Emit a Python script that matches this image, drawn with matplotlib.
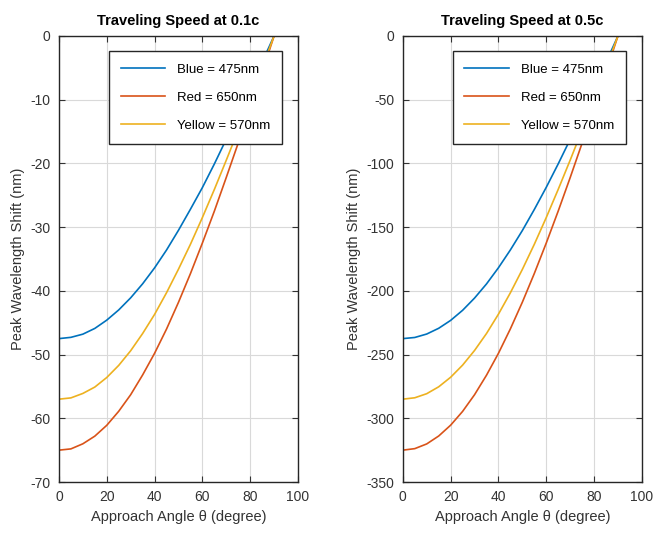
import matplotlib
matplotlib.use("Agg")
import matplotlib.pyplot as plt

plt.rcParams['font.family'] = ['Liberation Sans', 'DejaVu Sans']
plt.rcParams['axes.unicode_minus'] = False

# approach angle (degree)
theta = [0, 5, 10, 15, 20, 25, 30, 35, 40, 45, 50, 55, 60, 65, 70, 75, 80, 85, 90]

# peak wavelength shift (nm) at 0.1c
blue_01 = [-47.5, -47.3, -46.8, -45.9, -44.6, -43.0, -41.1, -38.9, -36.4, -33.6,
           -30.5, -27.2, -23.8, -20.1, -16.2, -12.3, -8.2, -4.1, 0.0]
red_01 = [-65.0, -64.8, -64.0, -62.8, -61.1, -58.9, -56.3, -53.2, -49.8, -46.0,
          -41.8, -37.3, -32.5, -27.5, -22.2, -16.8, -11.3, -5.7, 0.0]
yellow_01 = [-57.0, -56.8, -56.1, -55.1, -53.6, -51.7, -49.4, -46.7, -43.7, -40.3,
             -36.6, -32.7, -28.5, -24.1, -19.5, -14.8, -9.9, -5.0, 0.0]

# peak wavelength shift (nm) at 0.5c
blue_05 = [-237.5, -236.6, -233.9, -229.4, -223.2, -215.3, -205.7, -194.6, -181.9, -167.9,
           -152.7, -136.2, -118.8, -100.4, -81.2, -61.5, -41.2, -20.7, 0.0]
red_05 = [-325.0, -323.8, -320.1, -313.9, -305.4, -294.6, -281.5, -266.2, -249.0, -229.8,
          -208.9, -186.4, -162.5, -137.4, -111.2, -84.1, -56.4, -28.3, 0.0]
yellow_05 = [-285.0, -283.9, -280.7, -275.3, -267.8, -258.3, -246.8, -233.5, -218.3, -201.5,
             -183.2, -163.5, -142.5, -120.4, -97.5, -73.8, -49.5, -24.8, 0.0]

labels = ['Blue = 475nm', 'Red = 650nm', 'Yellow = 570nm']
colors = ['#0072BD', '#D95319', '#EDB120']

fig = plt.figure(figsize=(6.55, 5.35), dpi=100)
ax1 = fig.add_axes([0.090, 0.099, 0.365, 0.834])
ax2 = fig.add_axes([0.615, 0.099, 0.365, 0.834])

panels = [
    (ax1, [blue_01, red_01, yellow_01], 'Traveling Speed at 0.1c', -70, 10),
    (ax2, [blue_05, red_05, yellow_05], 'Traveling Speed at 0.5c', -350, 50),
]

for ax, series, title, ymin, step in panels:
    for ys, c, lab in zip(series, colors, labels):
        ax.plot(theta, ys, color=c, lw=1.2, label=lab)
    ax.set_xlim(0, 100)
    ax.set_ylim(ymin, 0)
    ax.set_xticks(range(0, 101, 20))
    ax.set_yticks(range(ymin, 1, step))
    ax.grid(True, color='#d9d9d9', lw=0.8)
    ax.set_axisbelow(True)
    ax.tick_params(direction='in', length=4, top=True, right=True,
                   labelsize=10, colors='#333333', pad=6)
    for s in ax.spines.values():
        s.set_color('#262626')
        s.set_linewidth(1.0)
    ax.set_title(title, fontsize=10.5, fontweight='bold', pad=8)
    ax.set_xlabel('Approach Angle θ (degree)', fontsize=10.5, color='#333333')
    ax.set_ylabel('Peak Wavelength Shift (nm)', fontsize=10.5, color='#333333')
    leg = ax.legend(loc='upper right', bbox_to_anchor=(0.935, 0.965), fontsize=9.5,
                    fancybox=False, framealpha=1, edgecolor='#262626',
                    handlelength=3.4, labelspacing=1.2, borderpad=0.9,
                    handletextpad=0.9, borderaxespad=0)
    leg.get_frame().set_linewidth(1.0)

fig.savefig('out.png', dpi=100)
